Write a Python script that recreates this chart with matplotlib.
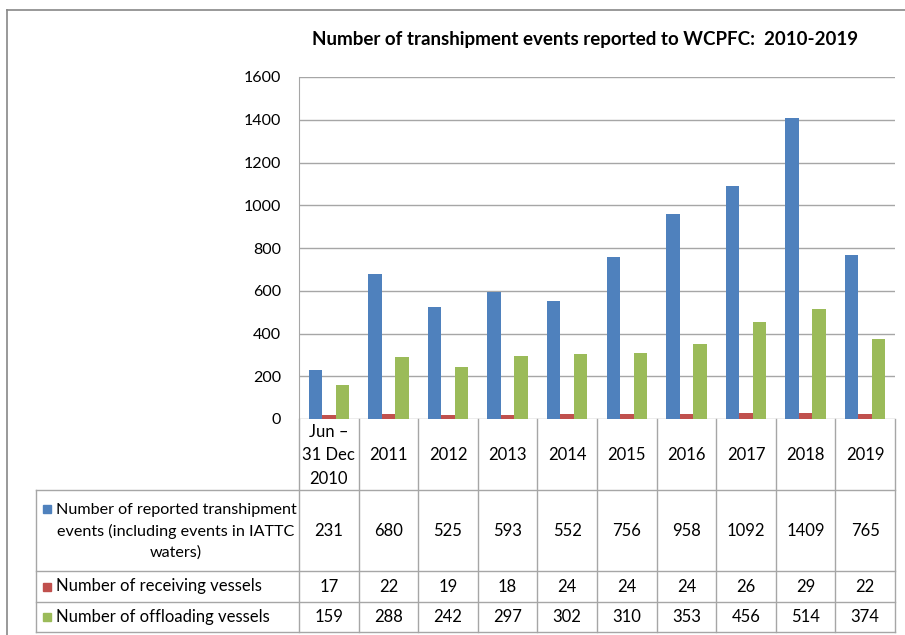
import matplotlib.pyplot as plt
from matplotlib.patches import Rectangle

# Data
cats = ['Jun –\n31 Dec\n2010', '2011', '2012', '2013', '2014', '2015', '2016', '2017', '2018', '2019']
events = [231, 680, 525, 593, 552, 756, 958, 1092, 1409, 765]
receiving = [17, 22, 19, 18, 24, 24, 24, 26, 29, 22]
offloading = [159, 288, 242, 297, 302, 310, 353, 456, 514, 374]
series_names = ['Number of reported transhipment\nevents (including events in IATTC\nwaters)',
                'Number of receiving vessels',
                'Number of offloading vessels']
colors = ['#4F81BD', '#C0504D', '#9BBB59']

plt.rcParams['font.family'] = ['Lato', 'DejaVu Sans']

W, H = 905, 635
fig = plt.figure(figsize=(W / 100, H / 100), dpi=100)


def box(x0, y0, x1, y1):
    # pixel box (top-left origin) -> figure fraction
    return [x0 / W, 1 - y1 / H, (x1 - x0) / W, (y1 - y0) / H]


# outer border of the chart area
fig.add_artist(plt.Line2D([7 / W, 7 / W], [0, 1 - 10 / H], color='#888888', lw=1.2))
fig.add_artist(plt.Line2D([7 / W, 1], [1 - 10 / H, 1 - 10 / H], color='#888888', lw=1.2))

x0, x1, ytop, yzero = 299, 895, 77, 419
ax = fig.add_axes(box(x0, ytop, x1, yzero))
n = len(cats)
bw = 0.225
xs = list(range(n))
for k, (vals, c) in enumerate(zip([events, receiving, offloading], colors)):
    ax.bar([x + (k - 1) * bw for x in xs], vals, width=bw, color=c, zorder=3)

ax.set_xlim(-0.5, n - 0.5)
ax.set_ylim(0, 1600)
ax.set_yticks(range(0, 1601, 200))
ax.yaxis.grid(True, color='#A6A6A6', lw=1, zorder=0)
ax.set_xticks([])
ax.tick_params(axis='y', length=0, pad=13, labelsize=11.5)
for s in ['top', 'right', 'bottom']:
    ax.spines[s].set_visible(False)
ax.spines['left'].set_color('#A6A6A6')

fig.text(585 / W, 1 - 40 / H, 'Number of transhipment events reported to WCPFC:  2010-2019',
         ha='center', va='center', fontsize=13.5, fontweight='bold')

# data table below the chart
tab_left, tab_bottom = 36, 632
colw = (x1 - x0) / n
tab = fig.add_axes(box(tab_left, yzero, x1, tab_bottom))
tab.set_xlim(-0.5 - (x0 - tab_left) / colw, n - 0.5)
tab.set_ylim(tab_bottom, yzero)
tab.axis('off')

rows = [490, 571, 602, 632]
lc = '#A6A6A6'
lk = dict(color=lc, lw=1, clip_on=False)
# vertical lines for the data columns
for i in range(n + 1):
    tab.plot([i - 0.5, i - 0.5], [yzero, tab_bottom], **lk)
# left edge of the header column
xl = tab.get_xlim()[0]
tab.plot([xl, xl], [rows[0], tab_bottom], **lk)
for r in rows:
    tab.plot([xl, n - 0.5], [r, r], **lk)

fs = 12
for i, c in enumerate(cats):
    tab.text(i, (yzero + rows[0]) / 2 + 1, c, ha='center', va='center', fontsize=fs, linespacing=1.55)

for j, vals in enumerate([events, receiving, offloading]):
    yc = (rows[j] + rows[j + 1]) / 2
    for i, v in enumerate(vals):
        tab.text(i, yc, str(v), ha='center', va='center', fontsize=fs)
    # legend key + label
    sq = 8 / colw
    ysq = yc - 4 - (22 if j == 0 else 0)
    tab.add_patch(Rectangle((xl + 7 / colw, ysq), sq, 8, color=colors[j], clip_on=False))
    if j == 0:
        tab.text(xl + (176 - tab_left) / colw, yc + 1, series_names[j], ha='center', va='center',
                 fontsize=11.6, linespacing=1.55, multialignment='center')
    else:
        tab.text(xl + 20 / colw, yc, series_names[j], ha='left', va='center', fontsize=fs)

fig.savefig('out.png', dpi=100)
